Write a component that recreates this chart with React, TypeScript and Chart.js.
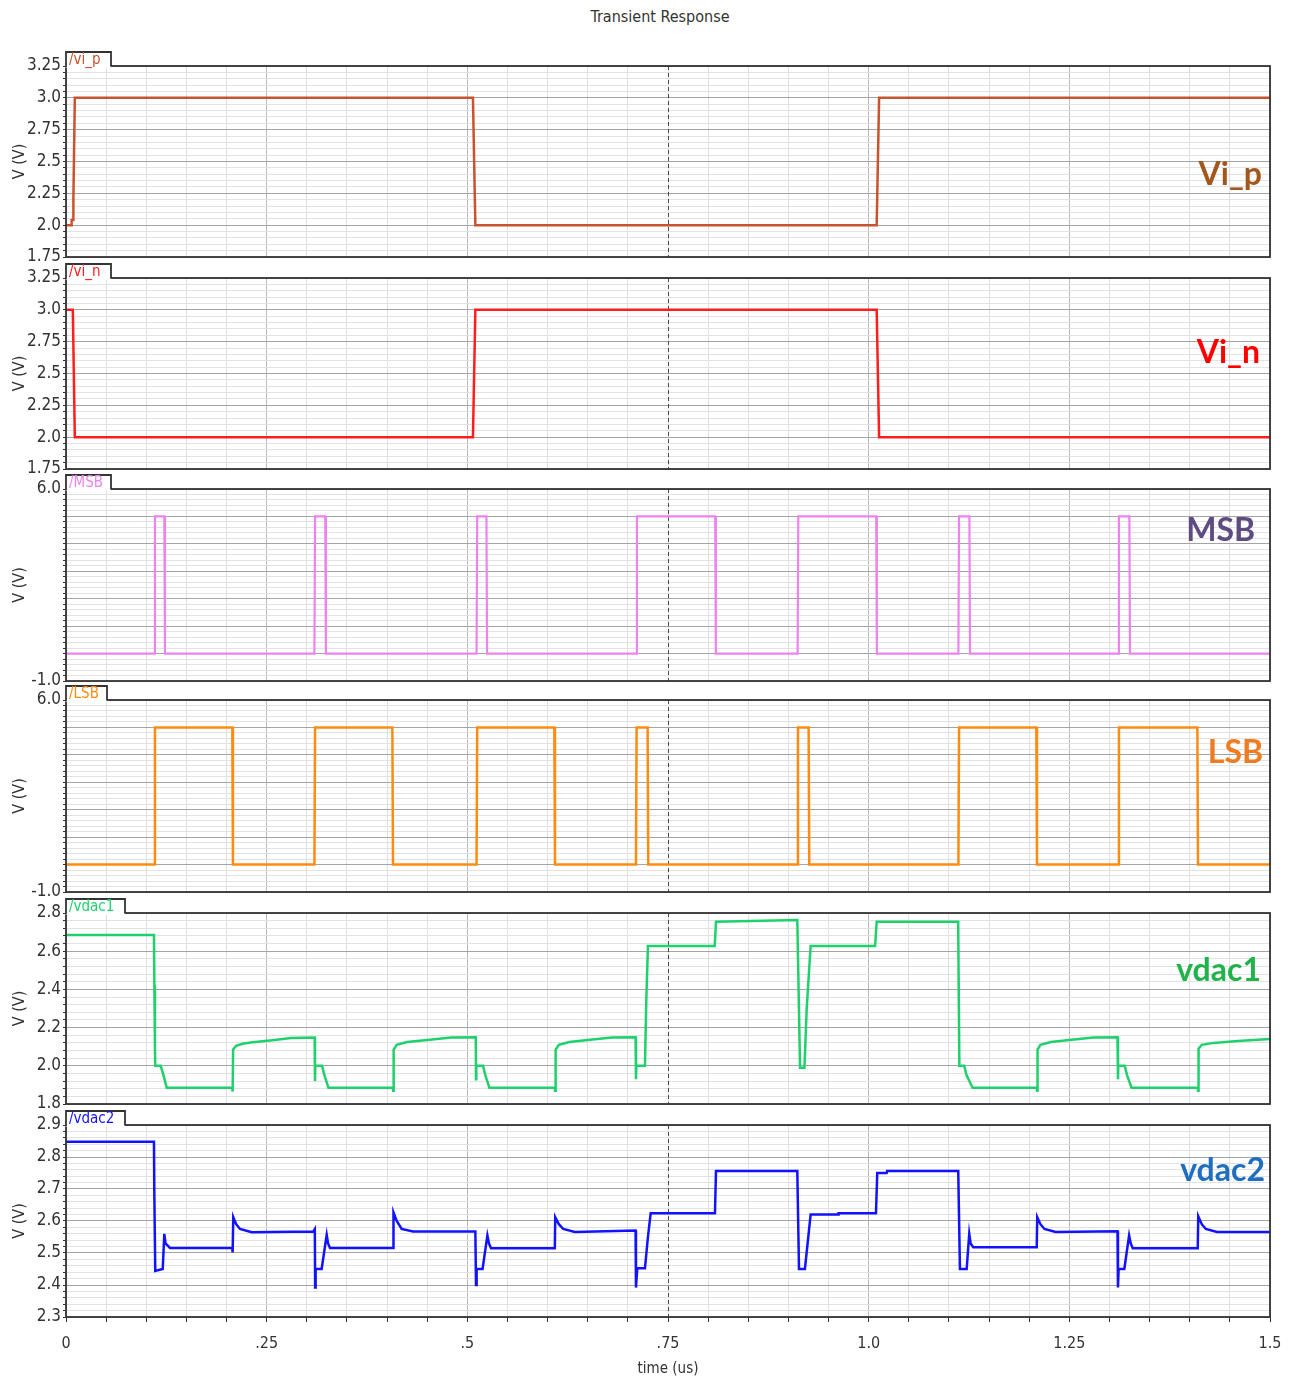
import React, { useEffect, useRef } from 'react';
import { Chart, registerables } from 'chart.js';

Chart.register(...registerables);

const FONT = '"DejaVu Sans Condensed", "Liberation Sans Narrow", "DejaVu Sans", sans-serif';
const BIG_FONT = 'Lato, "Open Sans", "Liberation Sans", sans-serif';

// ---------------- data (time in us, voltage in V) ----------------
const viPTime = [0, 0.0068, 0.0070, 0.0088, 0.0092, 0.0110, 0.5070, 0.5100, 1.0100, 1.0130, 1.5];
const viPVolt = [2.0, 2.0, 2.04, 2.04, 2.2, 3.0, 3.0, 2.0, 2.0, 3.0, 3.0];

const viNTime = [0, 0.0085, 0.0110, 0.5070, 0.5100, 1.0100, 1.0130, 1.5];
const viNVolt = [3.0, 3.0, 2.0, 2.0, 3.0, 3.0, 2.0, 2.0];

const msbTime = [0,
  0.1100, 0.1108, 0.1225, 0.1233,
  0.3095, 0.3103, 0.3230, 0.3238,
  0.5115, 0.5123, 0.5238, 0.5246,
  0.7105, 0.7113, 0.8088, 0.8096,
  0.9115, 0.9123, 1.0094, 1.0102,
  1.1118, 1.1126, 1.1255, 1.1263,
  1.3110, 1.3118, 1.3248, 1.3256,
  1.5];
const msbVolt = [0,
  0, 5, 5, 0,
  0, 5, 5, 0,
  0, 5, 5, 0,
  0, 5, 5, 0,
  0, 5, 5, 0,
  0, 5, 5, 0,
  0, 5, 5, 0,
  0];

const lsbTime = [0,
  0.1100, 0.1108, 0.2072, 0.2080,
  0.3095, 0.3103, 0.4066, 0.4074,
  0.5115, 0.5123, 0.6084, 0.6092,
  0.7101, 0.7109, 0.7246, 0.7254,
  0.9111, 0.9119, 0.9252, 0.9260,
  1.1118, 1.1126, 1.2089, 1.2097,
  1.3110, 1.3118, 1.4095, 1.4103,
  1.5];
const lsbVolt = [0,
  0, 5, 5, 0,
  0, 5, 5, 0,
  0, 5, 5, 0,
  0, 5, 5, 0,
  0, 5, 5, 0,
  0, 5, 5, 0,
  0, 5, 5, 0,
  0];

const vdac1Time = [
  0, 0.1096, 0.1101, 0.1108, 0.1112, 0.1180, 0.1215, 0.1255, 0.2072, 0.2076, 0.2082, 0.2120, 0.2200, 0.2300, 0.2600, 0.2800, 0.3098,
  0.3102, 0.3106, 0.3190, 0.3220, 0.3270, 0.4072, 0.4076, 0.4082, 0.4120, 0.4250, 0.4500, 0.4800, 0.5105,
  0.5108, 0.5112, 0.5195, 0.5225, 0.5275, 0.6090, 0.6094, 0.6100, 0.6140, 0.6270, 0.6500, 0.6800, 0.7096,
  0.7101, 0.7106, 0.7213, 0.7230, 0.7250, 0.8082, 0.8098, 0.9111,
  0.9145, 0.9200, 0.9228, 0.9277, 1.0080, 1.0100, 1.1115,
  1.1130, 1.1190, 1.1220, 1.1295, 1.2094, 1.2098, 1.2104, 1.2140, 1.2270, 1.2500, 1.2800, 1.3100,
  1.3106, 1.3110, 1.3190, 1.3220, 1.3275, 1.4100, 1.4104, 1.4110, 1.4150, 1.4300, 1.4600, 1.5000];
const vdac1Volt = [
  2.685, 2.685, 2.42, 2.10, 2.00, 2.00, 1.95, 1.885, 1.885, 1.865, 2.085, 2.105, 2.115, 2.122, 2.135, 2.145, 2.148,
  1.92, 2.00, 2.00, 1.95, 1.885, 1.885, 1.87, 2.085, 2.11, 2.125, 2.135, 2.148, 2.15,
  1.93, 2.00, 2.00, 1.95, 1.885, 1.885, 1.87, 2.085, 2.11, 2.125, 2.135, 2.148, 2.15,
  1.93, 2.00, 2.00, 2.35, 2.627, 2.627, 2.754, 2.763,
  1.99, 1.99, 2.30, 2.627, 2.627, 2.754, 2.754,
  2.00, 2.00, 1.95, 1.885, 1.885, 1.87, 2.085, 2.11, 2.125, 2.135, 2.148, 2.15,
  1.93, 2.00, 2.00, 1.95, 1.885, 1.885, 1.87, 2.09, 2.11, 2.12, 2.13, 2.14];

const vdac2Time = [
  0, 0.1096, 0.1100, 0.1112, 0.1205, 0.1225, 0.1240, 0.1296, 0.2072, 0.2076, 0.2084, 0.2120, 0.2168, 0.2313, 0.3080, 0.3100,
  0.3104, 0.3110, 0.3185, 0.3248, 0.3265, 0.3289, 0.4075, 0.4080, 0.4120, 0.4182, 0.4323, 0.5100,
  0.5108, 0.5116, 0.5190, 0.5250, 0.5270, 0.5295, 0.6090, 0.6095, 0.6140, 0.6195, 0.6340, 0.7096,
  0.7101, 0.7117, 0.7213, 0.7250, 0.7284, 0.8085, 0.8098, 0.9111,
  0.9132, 0.9206, 0.9277, 0.9618, 0.9625, 1.0091, 1.0107, 1.0224, 1.0230, 1.1116,
  1.1137, 1.1221, 1.1253, 1.1270, 1.1303, 1.2094, 1.2100, 1.2140, 1.2190, 1.2330, 1.3100,
  1.3106, 1.3114, 1.3185, 1.3245, 1.3265, 1.3290, 1.4100, 1.4106, 1.4150, 1.4200, 1.4340, 1.5000];
const vdac2Volt = [
  2.848, 2.848, 2.696, 2.444, 2.45, 2.56, 2.53, 2.516, 2.516, 2.502, 2.612, 2.59, 2.575, 2.565, 2.567, 2.575,
  2.392, 2.45, 2.45, 2.557, 2.53, 2.516, 2.516, 2.627, 2.60, 2.575, 2.567, 2.567,
  2.40, 2.45, 2.45, 2.555, 2.53, 2.515, 2.515, 2.612, 2.59, 2.575, 2.566, 2.570,
  2.392, 2.452, 2.452, 2.55, 2.624, 2.624, 2.756, 2.756,
  2.45, 2.45, 2.62, 2.62, 2.624, 2.624, 2.75, 2.75, 2.756, 2.756,
  2.45, 2.45, 2.56, 2.53, 2.518, 2.518, 2.612, 2.59, 2.575, 2.566, 2.568,
  2.392, 2.45, 2.45, 2.555, 2.53, 2.515, 2.515, 2.615, 2.59, 2.575, 2.566, 2.566];

// ---------------- tick labels ----------------
const xTickValues = [0, 0.25, 0.5, 0.75, 1.0, 1.25, 1.5];
const xTickLabels = ['0', '.25', '.5', '.75', '1.0', '1.25', '1.5'];

const viTickValues = [3.25, 3.0, 2.75, 2.5, 2.25, 2.0, 1.75];
const viTickLabels = ['3.25', '3.0', '2.75', '2.5', '2.25', '2.0', '1.75'];

const bitTickValues = [6.0, -1.0];
const bitTickLabels = ['6.0', '-1.0'];

const vdac1TickValues = [2.8, 2.6, 2.4, 2.2, 2.0, 1.8];
const vdac1TickLabels = ['2.8', '2.6', '2.4', '2.2', '2.0', '1.8'];

const vdac2TickValues = [2.9, 2.8, 2.7, 2.6, 2.5, 2.4, 2.3];
const vdac2TickLabels = ['2.9', '2.8', '2.7', '2.6', '2.5', '2.4', '2.3'];

type Spec = {
  key: string;
  top: number;
  height: number;
  yMin: number;
  yMax: number;
  minor: number;
  major: number;
  tickValues: number[];
  tickLabels: string[];
  time: number[];
  volt: number[];
  color: string;
  lineWidth: number;
  tab: string;
  tabWidth: number;
  big: string;
  bigColor: string;
  bigOffset: number;
  bigRight: number;
  last?: boolean;
};

const panels: Spec[] = [
  { key: 'vip', top: 66, height: 191, yMin: 1.75, yMax: 3.25, minor: 0.05, major: 0.25,
    tickValues: viTickValues, tickLabels: viTickLabels, time: viPTime, volt: viPVolt,
    color: '#c9532f', lineWidth: 2.5, tab: '/vi_p', tabWidth: 45,
    big: 'Vi_p', bigColor: '#a3571d', bigOffset: 109, bigRight: 1262 },
  { key: 'vin', top: 278, height: 191, yMin: 1.75, yMax: 3.25, minor: 0.05, major: 0.25,
    tickValues: viTickValues, tickLabels: viTickLabels, time: viNTime, volt: viNVolt,
    color: '#ff1e1e', lineWidth: 2.5, tab: '/vi_n', tabWidth: 45,
    big: 'Vi_n', bigColor: '#ff0000', bigOffset: 75, bigRight: 1260 },
  { key: 'msb', top: 489, height: 192, yMin: -1, yMax: 6, minor: 0.2, major: 1,
    tickValues: bitTickValues, tickLabels: bitTickLabels, time: msbTime, volt: msbVolt,
    color: '#ee82ee', lineWidth: 2.2, tab: '/MSB', tabWidth: 45,
    big: 'MSB', bigColor: '#5e4c80', bigOffset: 42, bigRight: 1255 },
  { key: 'lsb', top: 700, height: 192, yMin: -1, yMax: 6, minor: 0.2, major: 1,
    tickValues: bitTickValues, tickLabels: bitTickLabels, time: lsbTime, volt: lsbVolt,
    color: '#ff8c10', lineWidth: 2.5, tab: '/LSB', tabWidth: 41,
    big: 'LSB', bigColor: '#f07c22', bigOffset: 53, bigRight: 1263 },
  { key: 'vdac1', top: 913, height: 191, yMin: 1.8, yMax: 2.8, minor: 0.04, major: 0.2,
    tickValues: vdac1TickValues, tickLabels: vdac1TickLabels, time: vdac1Time, volt: vdac1Volt,
    color: '#1fd16c', lineWidth: 2.5, tab: '/vdac1', tabWidth: 59,
    big: 'vdac1', bigColor: '#22b24c', bigOffset: 58, bigRight: 1261 },
  { key: 'vdac2', top: 1125, height: 192, yMin: 2.3, yMax: 2.9, minor: 0.02, major: 0.1,
    tickValues: vdac2TickValues, tickLabels: vdac2TickLabels, time: vdac2Time, volt: vdac2Volt,
    color: '#1212ff', lineWidth: 2.5, tab: '/vdac2', tabWidth: 59,
    big: 'vdac2', bigColor: '#1f6fc1', bigOffset: 46, bigRight: 1265, last: true },
];

const TOP_PAD = 20;
const X_AXIS_H = 65;

function isMultiple(v: number, step: number) {
  const r = v / step;
  return Math.abs(r - Math.round(r)) < 1e-6;
}

function labelFor(values: number[], labels: string[], v: number) {
  for (let i = 0; i < values.length; i++) {
    if (Math.abs(values[i] - v) < 1e-6) return labels[i];
  }
  return '';
}

function Panel({ spec }: { spec: Spec }) {
  const ref = useRef<HTMLCanvasElement | null>(null);
  const bottomPad = spec.last ? 0 : 12;
  const canvasH = TOP_PAD + spec.height + (spec.last ? X_AXIS_H : bottomPad);

  useEffect(() => {
    const canvas = ref.current;
    if (!canvas) return;

    const yGrid: number[] = [];
    const nY = Math.round((spec.yMax - spec.yMin) / spec.minor);
    for (let k = 0; k <= nY; k++) yGrid.push(+(spec.yMin + k * spec.minor).toFixed(6));
    const xGrid: number[] = [];
    for (let k = 0; k <= 30; k++) xGrid.push(+(k * 0.05).toFixed(6));

    const points = spec.time.map((t, i) => ({ x: t, y: spec.volt[i] }));

    const decor = {
      id: 'decor' + spec.key,
      beforeDatasetsDraw(chart: any) {
        const { ctx, chartArea } = chart;
        const xs = chart.scales.x;
        const px = Math.round(xs.getPixelForValue(0.75)) + 0.5;
        ctx.save();
        ctx.strokeStyle = '#4a4a4a';
        ctx.lineWidth = 1;
        ctx.setLineDash([4, 3]);
        ctx.beginPath();
        ctx.moveTo(px, chartArea.top);
        ctx.lineTo(px, chartArea.bottom);
        ctx.stroke();
        ctx.restore();
      },
      afterDatasetsDraw(chart: any) {
        const { ctx, chartArea } = chart;
        const { left, top, right, bottom } = chartArea;
        ctx.save();
        // frame
        ctx.strokeStyle = '#333333';
        ctx.lineWidth = 1.8;
        ctx.strokeRect(left, top, right - left, bottom - top);
        // tab
        const tabH = 14;
        ctx.fillStyle = '#ffffff';
        ctx.fillRect(left - 0.5, top - tabH, spec.tabWidth, tabH + 1.5);
        ctx.beginPath();
        ctx.moveTo(left, top + 1);
        ctx.lineTo(left, top - tabH);
        ctx.lineTo(left + spec.tabWidth, top - tabH);
        ctx.lineTo(left + spec.tabWidth, top);
        ctx.stroke();
        ctx.fillStyle = spec.color;
        ctx.font = '15px ' + FONT;
        ctx.textAlign = 'left';
        ctx.textBaseline = 'middle';
        ctx.fillText(spec.tab, left + 3, top - tabH / 2 + 1);
        // big label
        ctx.fillStyle = spec.bigColor;
        ctx.font = 'bold 32px ' + BIG_FONT;
        ctx.textAlign = 'right';
        ctx.textBaseline = 'middle';
        ctx.fillText(spec.big, spec.bigRight, top + spec.bigOffset);
        ctx.restore();
      },
    };

    const chart = new Chart(canvas, {
      type: 'line',
      data: {
        datasets: [
          {
            data: points,
            borderColor: spec.color,
            borderWidth: spec.lineWidth,
            pointRadius: 0,
            tension: 0,
            fill: false,
          },
        ],
      },
      options: {
        responsive: false,
        maintainAspectRatio: false,
        animation: false,
        events: [],
        layout: { padding: { top: TOP_PAD, bottom: bottomPad, left: 0, right: 24 } },
        plugins: {
          legend: { display: false },
          tooltip: { enabled: false },
          title: { display: false },
        },
        scales: {
          x: {
            type: 'linear',
            min: 0,
            max: 1.5,
            afterBuildTicks: (s: any) => {
              s.ticks = xGrid.map((v) => ({ value: v }));
            },
            afterFit: (s: any) => {
              s.height = spec.last ? X_AXIS_H : 0;
              s.paddingLeft = 0;
              s.paddingRight = 0;
            },
            border: { display: false },
            grid: {
              color: (c: any) => {
                const v = c.tick ? c.tick.value : 0;
                if (isMultiple(v, 0.25) && !isMultiple(v - 0.75, 1.5)) return '#bababa';
                return '#e0e0e0';
              },
              lineWidth: 1,
              drawTicks: !!spec.last,
              tickLength: 5,
              tickColor: '#333333',
            },
            ticks: {
              display: !!spec.last,
              autoSkip: false,
              maxRotation: 0,
              minRotation: 0,
              padding: 12,
              color: '#333333',
              font: { family: FONT, size: 16 },
              callback: (v: any) => labelFor(xTickValues, xTickLabels, Number(v)),
            },
            title: {
              display: !!spec.last,
              text: 'time (us)',
              color: '#333333',
              font: { family: FONT, size: 15 },
              padding: { top: 0, bottom: 4 },
            },
          },
          y: {
            type: 'linear',
            min: spec.yMin,
            max: spec.yMax,
            afterBuildTicks: (s: any) => {
              s.ticks = yGrid.map((v) => ({ value: v }));
            },
            afterFit: (s: any) => {
              s.width = 66;
              s.paddingTop = 0;
              s.paddingBottom = 0;
            },
            border: { display: false },
            grid: {
              color: (c: any) => {
                const v = c.tick ? c.tick.value : 0;
                return isMultiple(v - spec.yMin, spec.major) ? '#a4a4a4' : '#e2e2e2';
              },
              lineWidth: 1,
              drawTicks: true,
              tickLength: 3,
              tickColor: '#333333',
            },
            ticks: {
              autoSkip: false,
              padding: 2,
              color: '#333333',
              font: { family: FONT, size: 17 },
              callback: (v: any) => labelFor(spec.tickValues, spec.tickLabels, Number(v)),
            },
            title: {
              display: true,
              text: 'V (V)',
              color: '#333333',
              font: { family: FONT, size: 16 },
              padding: { top: 10, bottom: 0 },
            },
          },
        },
      },
      plugins: [decor],
    } as any);

    return () => chart.destroy();
  }, []);

  return (
    <canvas
      ref={ref}
      width={1294}
      height={canvasH}
      style={{ position: 'absolute', left: 0, top: spec.top - TOP_PAD, width: 1294, height: canvasH }}
    />
  );
}

export default function App() {
  return (
    <div
      style={{
        position: 'absolute',
        left: 0,
        top: 0,
        width: 1294,
        height: 1382,
        background: '#ffffff',
        overflow: 'hidden',
      }}
    >
      <div
        style={{
          position: 'absolute',
          left: 560,
          width: 200,
          top: 8,
          textAlign: 'center',
          fontFamily: FONT,
          fontSize: 16,
          lineHeight: '18px',
          color: '#333333',
        }}
      >
        Transient Response
      </div>
      {panels.map((p) => (
        <Panel key={p.key} spec={p} />
      ))}
    </div>
  );
}
